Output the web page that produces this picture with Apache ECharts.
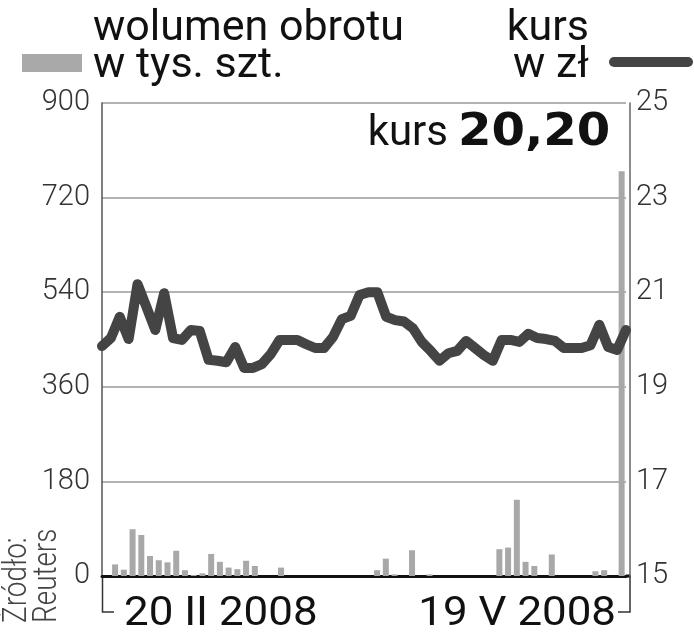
<!DOCTYPE html>
<html><head><meta charset="utf-8">
<script src="https://cdn.jsdelivr.net/npm/echarts@6/dist/echarts.min.js"></script>
<style>html,body{margin:0;padding:0;background:#fff;}#c{width:694px;height:640px;}</style>
</head><body><div id="c"></div>
<script>
// ---- data ----
const volumeTicks = [0, 180, 360, 540, 720, 900];
const priceTicks = [15, 17, 19, 21, 23, 25];
const dateLabels = ['20 II 2008', '19 V 2008'];
const volumeLabel = ['wolumen obrotu', 'w tys. szt.'];
const priceLabel = ['kurs', 'w zł'];
const sourceLabel = 'Źródło:\nReuters';
// volume in thousands of shares, one per trading day
const volume = [0, 22, 12, 89, 78, 38, 30, 26, 48, 11,
  2, 5, 42, 27, 16, 13, 29, 19, 0, 0,
  16, 0, 0, 0, 0, 0, 0, 0, 0, 0,
  0, 11, 33, 3, 0, 49, 0, 3, 0, 0,
  0, 0, 0, 0, 0, 51, 54, 145, 27, 19,
  0, 41, 0, 0, 0, 0, 9, 11, 0, 770];
// closing price in zł
const price = [19.86, 20.03, 20.48, 20.01, 21.17, 20.69, 20.20, 20.98, 20.03, 19.99,
  20.20, 20.18, 19.57, 19.55, 19.52, 19.84, 19.40, 19.40, 19.48, 19.69,
  19.99, 19.99, 19.99, 19.90, 19.82, 19.82, 20.05, 20.43, 20.50, 20.94,
  21.00, 21.00, 20.48, 20.41, 20.38, 20.24, 19.95, 19.76, 19.55, 19.71,
  19.76, 19.97, 19.82, 19.67, 19.55, 19.99, 19.99, 19.95, 20.12, 20.03,
  20.01, 19.97, 19.82, 19.82, 19.82, 19.88, 20.31, 19.84, 19.78, 20.20];
const days = price.map((_, i) => String(i + 1));

const FONT = 'Roboto';
const chart = echarts.init(document.getElementById('c'), null, {renderer: 'canvas'});
const tickLabel = {fontSize: 29, color: '#333', fontFamily: FONT, fontWeight: 300};

chart.setOption({
  animation: false,
  backgroundColor: '#fff',
  grid: {left: 102, right: 68, top: 103, bottom: 64},
  xAxis: [
    {type: 'category', data: days, boundaryGap: true,
     axisLine: {show: true, lineStyle: {color: '#111', width: 3}},
     axisTick: {show: false}, axisLabel: {show: false}, splitLine: {show: false}},
    {type: 'category', data: days, boundaryGap: false, show: false}
  ],
  yAxis: [
    {type: 'value', min: volumeTicks[0], max: volumeTicks[volumeTicks.length - 1],
     interval: volumeTicks[1] - volumeTicks[0], position: 'left',
     axisLine: {show: true, lineStyle: {color: '#555', width: 1.5}},
     axisTick: {show: false},
     splitLine: {show: true, lineStyle: {color: '#999', width: 1.5}},
     axisLabel: Object.assign({margin: 12}, tickLabel)},
    {type: 'value', min: priceTicks[0], max: priceTicks[priceTicks.length - 1],
     interval: priceTicks[1] - priceTicks[0], position: 'right', offset: 4,
     axisLine: {show: true, lineStyle: {color: '#666', width: 1.5}},
     axisTick: {show: false}, splitLine: {show: false},
     axisLabel: Object.assign({margin: 6}, tickLabel)}
  ],
  series: [
    {type: 'bar', xAxisIndex: 0, yAxisIndex: 0, data: volume, barWidth: 6,
     itemStyle: {color: '#a8a8a8'}, z: 2, silent: true},
    {type: 'line', xAxisIndex: 1, yAxisIndex: 1, data: price, symbol: 'none',
     lineStyle: {color: '#444', width: 10, cap: 'round', join: 'round'}, z: 3, silent: true}
  ]
});

// decorations positioned from the axes
const x0 = chart.convertToPixel({xAxisIndex: 1}, days[0]);
const x1 = chart.convertToPixel({xAxisIndex: 1}, days[days.length - 1]);
const yBase = chart.convertToPixel({yAxisIndex: 0}, 0);
const xR = x1 + 4;
const last = price[price.length - 1].toFixed(2).replace('.', ',');
const txt = (text, x, y, size, align, extra, el) => Object.assign({
  type: 'text', x: x, y: y, silent: true,
  style: Object.assign({text: text, fontSize: size, fontFamily: FONT, fill: '#111',
    align: align, verticalAlign: 'middle'}, extra || {})
}, el || {});
chart.setOption({
  graphic: [
    // baseline extension to the right axis
    {type: 'line', silent: true, shape: {x1: x1, y1: yBase, x2: xR + 0.5, y2: yBase},
     style: {stroke: '#111', lineWidth: 3}},
    // date range brackets
    {type: 'polyline', silent: true,
     shape: {points: [[x0 + 0.5, yBase], [x0 + 0.5, yBase + 36], [x0 + 12, yBase + 36]]},
     style: {stroke: '#333', lineWidth: 1.5, fill: null}},
    {type: 'polyline', silent: true,
     shape: {points: [[xR, yBase], [xR, yBase + 36], [xR - 12, yBase + 36]]},
     style: {stroke: '#333', lineWidth: 1.5, fill: null}},
    txt(dateLabels[0], x0 + 22, yBase + 39, 41, 'left', null, {scaleX: 1.07}),
    txt(dateLabels[1], x1 - 10, yBase + 39, 41, 'right', null, {scaleX: 1.07}),
    // legend
    {type: 'rect', silent: true, shape: {x: 22, y: 54, width: 60, height: 18},
     style: {fill: '#a9a9a9'}},
    txt(volumeLabel[0], 93, 29, 43, 'left'),
    txt(volumeLabel[1], 93, 66, 43, 'left'),
    txt(priceLabel[0], 589, 29, 43, 'right'),
    txt(priceLabel[1], 589, 66, 43, 'right'),
    {type: 'line', silent: true, shape: {x1: 614, y1: 62, x2: 688, y2: 62},
     style: {stroke: '#444', lineWidth: 10, lineCap: 'round'}},
    // current price
    txt(priceLabel[0], 448, 134, 42, 'right'),
    txt(last, 458, 133, 45, 'left', {fontFamily: 'DejaVu Sans', fontWeight: 'bold'}, {scaleX: 1.07}),
    // source
    {type: 'text', x: 2, y: 623, rotation: Math.PI / 2, scaleX: 0.82, silent: true,
     style: {text: sourceLabel, fontSize: 34, lineHeight: 30, fontFamily: FONT, fontWeight: 300,
       fill: '#444', align: 'left', verticalAlign: 'top'}}
  ]
});
</script></body></html>
